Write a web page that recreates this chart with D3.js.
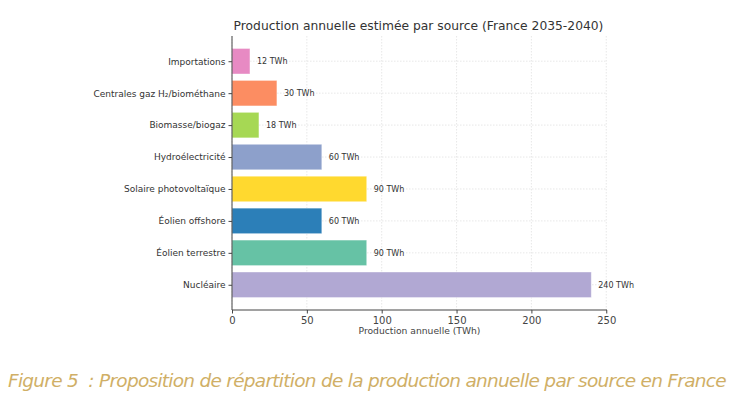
<!DOCTYPE html>
<html>
<head>
<meta charset="utf-8">
<script src="https://cdn.jsdelivr.net/npm/d3@7"></script>
<style>
  body { margin: 0; background: #fff; }
  text { font-family: "DejaVu Sans", sans-serif; }
</style>
</head>
<body>
<svg id="chart" width="742" height="395"></svg>
<script>
// sources, top to bottom as drawn
var sources = ["Importations", "Centrales gaz H\u2082/biom\u00e9thane", "Biomasse/biogaz", "Hydro\u00e9lectricit\u00e9",
  "Solaire photovolta\u00efque", "\u00c9olien offshore", "\u00c9olien terrestre", "Nucl\u00e9aire"];
var production = [12, 30, 18, 60, 90, 60, 90, 240];
var colours = ["#e78ac3", "#fc8d62", "#a6d854", "#8da0cb", "#ffd92f", "#2c7fb8", "#66c2a5", "#b1a8d3"];
var x_ticks = [0, 50, 100, 150, 200, 250];

var svg = d3.select("#chart");
var plot_left = 232, plot_right = 607, plot_top = 36, plot_bottom = 310;

var x = d3.scaleLinear().domain([0, 250.5]).range([plot_left, plot_right]);
// matplotlib-like barh: height 0.8 and 5% margins
var y = d3.scaleLinear().domain([-0.79, sources.length - 1 + 0.79]).range([plot_top, plot_bottom]);

// grid
svg.append("g").selectAll("line").data(x_ticks).enter().append("line")
  .attr("x1", function(d){ return x(d); }).attr("x2", function(d){ return x(d); })
  .attr("y1", plot_top).attr("y2", plot_bottom)
  .attr("stroke", "#dedede").attr("stroke-width", 0.7).attr("stroke-dasharray", "1.5,1.5");
svg.append("g").selectAll("line").data(sources).enter().append("line")
  .attr("x1", plot_left).attr("x2", plot_right)
  .attr("y1", function(d, i){ return y(i); }).attr("y2", function(d, i){ return y(i); })
  .attr("stroke", "#dedede").attr("stroke-width", 0.7).attr("stroke-dasharray", "1.5,1.5");

// bars
var bh = y(0.4) - y(-0.4);
svg.append("g").selectAll("rect").data(production).enter().append("rect")
  .attr("x", x(0))
  .attr("y", function(d, i){ return y(i) - bh/2; })
  .attr("width", function(d){ return x(d) - x(0); })
  .attr("height", bh)
  .attr("fill", function(d, i){ return colours[i]; })
  .attr("stroke", "#ffffff").attr("stroke-opacity", 0.5).attr("stroke-width", 0.8);

// value labels
svg.append("g").selectAll("text").data(production).enter().append("text")
  .attr("x", function(d){ return x(d) + 7; })
  .attr("y", function(d, i){ return y(i); })
  .attr("dy", "0.35em")
  .attr("font-size", 8)
  .attr("fill", "#333")
  .text(function(d){ return d + " TWh"; });

// axes
var xAxis = d3.axisBottom(x).tickValues(x_ticks).tickSize(3.5).tickPadding(3);
var gx = svg.append("g").attr("transform", "translate(0," + plot_bottom + ")").call(xAxis);
gx.select(".domain").attr("stroke", "#444").attr("d", "M" + plot_left + ",0H" + plot_right);
gx.selectAll("line").attr("stroke", "#444");
gx.selectAll("text").attr("font-size", 10).attr("fill", "#444").attr("font-family", "DejaVu Sans");

var y_points = d3.scalePoint().domain(sources).range([y(0), y(sources.length - 1)]);
var yAxis = d3.axisLeft(y_points).tickSize(3.5).tickPadding(3);
var gy = svg.append("g").attr("transform", "translate(" + plot_left + ",0)").call(yAxis);
gy.select(".domain").attr("stroke", "#444").attr("d", "M0," + plot_top + "V" + plot_bottom);
gy.selectAll("line").attr("stroke", "#444");
gy.selectAll("text").attr("font-size", 9).attr("fill", "#333").attr("font-family", "DejaVu Sans");

// titles
svg.append("text").attr("x", (plot_left + plot_right)/2 - 1).attr("y", 30)
  .attr("text-anchor", "middle").attr("font-size", 12.3).attr("fill", "#333")
  .text("Production annuelle estim\u00e9e par source (France 2035-2040)");
svg.append("text").attr("x", (plot_left + plot_right)/2).attr("y", 334)
  .attr("text-anchor", "middle").attr("font-size", 9.2).attr("fill", "#444")
  .text("Production annuelle (TWh)");

// caption, spread with letter spacing to span the width
var caption = svg.append("text").attr("x", 8).attr("y", 387)
  .attr("font-family", "Lato").attr("font-style", "italic").attr("font-weight", 300)
  .attr("font-size", 18.5).attr("fill", "#d0af66")
  .style("white-space", "pre")
  .text("Figure 5  : Proposition de r\u00e9partition de la production annuelle par source en France");
var cap_len = caption.node().getComputedTextLength();
var cap_chars = caption.text().length;
caption.attr("letter-spacing", ((718 - cap_len) / cap_chars).toFixed(2) + "px");
</script>
</body>
</html>
